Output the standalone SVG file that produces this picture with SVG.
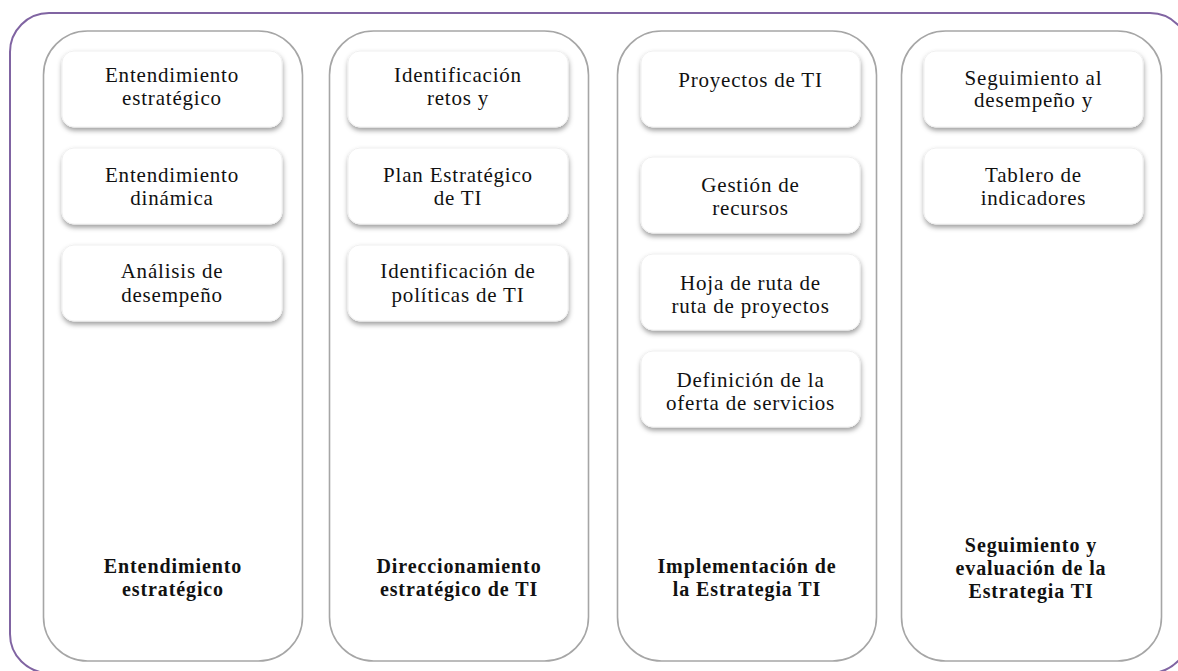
<svg xmlns="http://www.w3.org/2000/svg" width="1178" height="671" viewBox="0 0 1178 671">
<defs>
<filter id="sh" x="-10%" y="-20%" width="120%" height="150%">
<feDropShadow dx="0.5" dy="3" stdDeviation="2.5" flood-color="#000" flood-opacity="0.38"/>
</filter>
<style>
.frame{fill:none;stroke:#8064a2;stroke-width:2}
.col{fill:#fff;stroke:#a6a6a6;stroke-width:1.6}
.box{fill:#fff;stroke:#f0f0f0;stroke-width:1;filter:url(#sh)}
text{font-family:'Liberation Serif','DejaVu Serif',serif;fill:#111;text-anchor:middle}
.t{font-size:21px;letter-spacing:0.8px}
.h{font-size:20px;font-weight:bold;letter-spacing:0.9px}
</style>
</defs>
<rect width="1178" height="671" fill="#fff"/>
<rect class="frame" x="10" y="13" width="1179" height="660" rx="39"/>
<g id="col1">
<rect class="col" x="43.5" y="31" width="259" height="630" rx="44"/>
<text class="h" font-family="Liberation Serif, serif"><tspan x="173" y="573">Entendimiento</tspan><tspan x="173" y="596">estratégico</tspan></text>
</g>
<g id="col2">
<rect class="col" x="329.5" y="31" width="259" height="630" rx="44"/>
<text class="h" font-family="Liberation Serif, serif"><tspan x="459" y="573">Direccionamiento</tspan><tspan x="459" y="596">estratégico de TI</tspan></text>
</g>
<g id="col3">
<rect class="col" x="617.5" y="31" width="259" height="630" rx="44"/>
<text class="h" font-family="Liberation Serif, serif"><tspan x="747" y="573">Implementación de</tspan><tspan x="747" y="596">la Estrategia TI</tspan></text>
</g>
<g id="col4">
<rect class="col" x="901.5" y="31" width="260" height="630" rx="44"/>
<text class="h" font-family="Liberation Serif, serif"><tspan x="1031" y="552">Seguimiento y</tspan><tspan x="1031" y="575">evaluación de la</tspan><tspan x="1031" y="598">Estrategia TI</tspan></text>
</g>
<g id="n1a"><rect class="box" x="62" y="51" width="220" height="76" rx="12"/><text class="t" font-family="Liberation Serif, serif"><tspan x="172" y="82">Entendimiento</tspan><tspan x="172" y="105">estratégico</tspan></text></g>
<g id="n1b"><rect class="box" x="62" y="148" width="220" height="76" rx="12"/><text class="t" font-family="Liberation Serif, serif"><tspan x="172" y="182">Entendimiento</tspan><tspan x="172" y="205">dinámica</tspan></text></g>
<g id="n1c"><rect class="box" x="62" y="245" width="220" height="76" rx="12"/><text class="t" font-family="Liberation Serif, serif"><tspan x="172" y="278">Análisis de</tspan><tspan x="172" y="302">desempeño</tspan></text></g>
<g id="n2a"><rect class="box" x="348" y="51" width="220" height="76" rx="12"/><text class="t" font-family="Liberation Serif, serif"><tspan x="458" y="82">Identificación</tspan><tspan x="458" y="105">retos y</tspan></text></g>
<g id="n2b"><rect class="box" x="348" y="148" width="220" height="76" rx="12"/><text class="t" font-family="Liberation Serif, serif"><tspan x="458" y="182">Plan Estratégico</tspan><tspan x="458" y="205">de TI</tspan></text></g>
<g id="n2c"><rect class="box" x="348" y="245" width="220" height="76" rx="12"/><text class="t" font-family="Liberation Serif, serif"><tspan x="458" y="278">Identificación de</tspan><tspan x="458" y="302">políticas de TI</tspan></text></g>
<g id="n3a"><rect class="box" x="641" y="51" width="219" height="76" rx="12"/><text class="t" font-family="Liberation Serif, serif"><tspan x="750.5" y="87">Proyectos de TI</tspan></text></g>
<g id="n3b"><rect class="box" x="641" y="157" width="219" height="76" rx="12"/><text class="t" font-family="Liberation Serif, serif"><tspan x="750.5" y="192">Gestión de</tspan><tspan x="750.5" y="215">recursos</tspan></text></g>
<g id="n3c"><rect class="box" x="641" y="254" width="219" height="76" rx="12"/><text class="t" font-family="Liberation Serif, serif"><tspan x="750.5" y="290">Hoja de ruta de</tspan><tspan x="750.5" y="313">ruta de proyectos</tspan></text></g>
<g id="n3d"><rect class="box" x="641" y="351" width="219" height="76" rx="12"/><text class="t" font-family="Liberation Serif, serif"><tspan x="750.5" y="387">Definición de la</tspan><tspan x="750.5" y="410">oferta de servicios</tspan></text></g>
<g id="n4a"><rect class="box" x="924" y="51" width="219" height="76" rx="12"/><text class="t" font-family="Liberation Serif, serif"><tspan x="1033.5" y="85">Seguimiento al</tspan><tspan x="1033.5" y="107">desempeño y</tspan></text></g>
<g id="n4b"><rect class="box" x="924" y="148" width="219" height="76" rx="12"/><text class="t" font-family="Liberation Serif, serif"><tspan x="1033.5" y="182">Tablero de</tspan><tspan x="1033.5" y="205">indicadores</tspan></text></g>
<g id="connectors"></g>
</svg>
